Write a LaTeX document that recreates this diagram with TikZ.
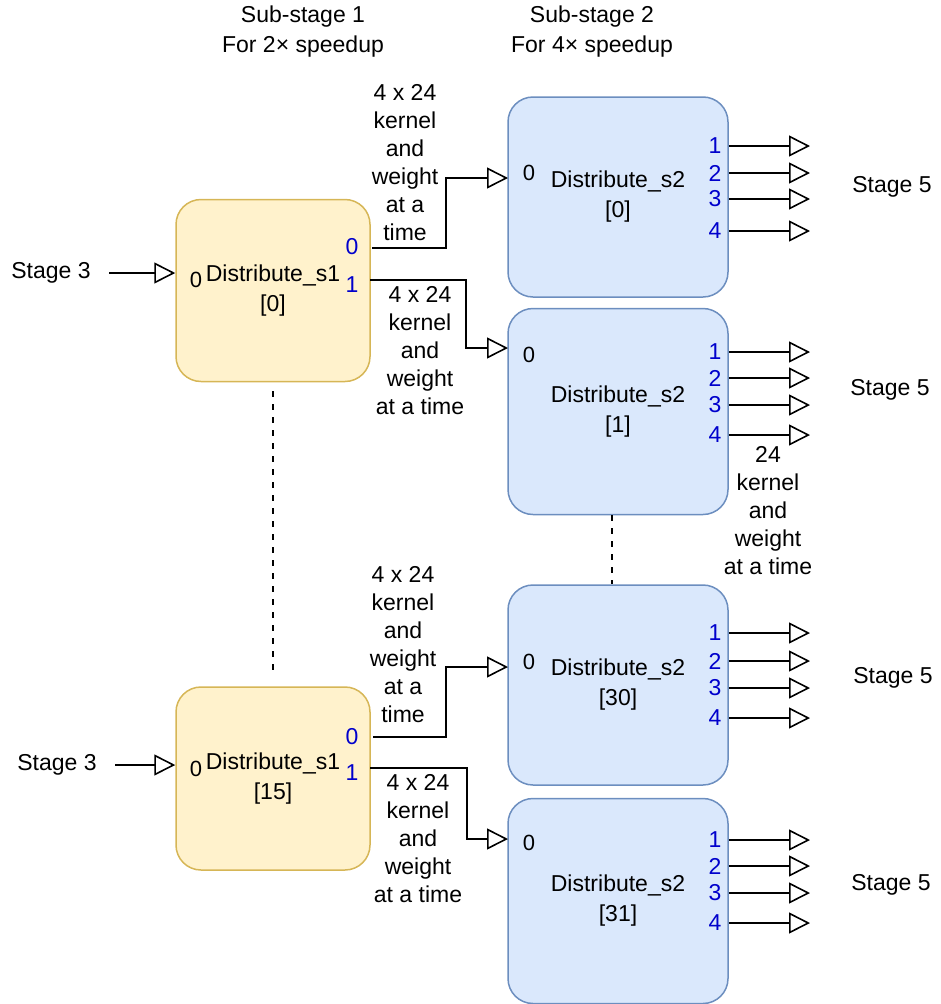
\documentclass[tikz,border=0pt]{standalone}
\usepackage{fontspec}
\setmainfont{Liberation Sans}
\usetikzlibrary{positioning,arrows.meta}
\definecolor{s1fill}{HTML}{FFF2CC}
\definecolor{s1draw}{HTML}{D6B656}
\definecolor{s2fill}{HTML}{DAE8FC}
\definecolor{s2draw}{HTML}{6C8EBF}
\definecolor{portblue}{HTML}{0000CC}
\tikzset{
>={Triangle[open,length=21pt,width=21pt]},
  s1node/.style={
    rectangle,
    rounded corners=25pt,
    fill=s1fill,
    draw=s1draw, line width=1.5pt,
    minimum width=194pt,
    minimum height=182pt,
    align=center,
    font=\fontsize{23}{30}\selectfont},
  s2node/.style={
    rectangle,
    rounded corners=25pt,
    fill=s2fill,
    draw=s2draw, line width=1.5pt,
    minimum width=220pt,
    minimum height=203pt,
    align=center,
    font=\fontsize{23}{30}\selectfont},
  portno/.style={text=portblue, inner sep=0pt},
  inport/.style={font=\fontsize{22}{28}\selectfont, inner sep=0pt},
  textnote/.style={align=center},
  line/.style={draw, line width=1.6pt, ->},
  dots/.style={draw, line width=1.6pt, dash pattern=on 6pt off 7pt}
}
\begin{document}
\begin{tikzpicture}[x=1pt, y=-1pt, font=\fontsize{23}{28}\selectfont]
  \useasboundingbox (0,0) rectangle (940,1004);

  % headers
  \node[textnote, font=\fontsize{23}{30}\selectfont] (sub1) at (303,32) {Sub-stage 1\\For 2× speedup};
  \node[textnote, font=\fontsize{23}{30}\selectfont] (sub2) at (592,32) {Sub-stage 2\\For 4× speedup};

  % sub-stage 1
  \node[s1node] (s1a) at (273,290.5) {Distribute\_s1\\{[0]}};
  \node[s1node, minimum height=183pt] (s1b) at (273,778.5) {Distribute\_s1\\{[15]}};

  % sub-stage 2
  \node[s2node, minimum height=200pt] (s2a) at (618,197) {Distribute\_s2\\{[0]}};
  \node[s2node, minimum height=206pt, below=10pt of s2a] (s2b) {Distribute\_s2\\{[1]}};
  \node[s2node, minimum height=200pt] (s2c) at (618,685) {Distribute\_s2\\{[30]}};
  \node[s2node, minimum height=205pt, below=12pt of s2c] (s2d) {Distribute\_s2\\{[31]}};

  % input port numbers
  \node[inport] (s1a-in) at (196,280) {0};
  \node[inport] (s1b-in) at (196,769) {0};
  \node[inport] (s2a-in) at (529,173) {0};
  \node[inport] (s2b-in) at (529,355) {0};
  \node[inport] (s2c-in) at (529,662) {0};
  \node[inport] (s2d-in) at (529,843) {0};

  % output port numbers of sub-stage 1
  \node[portno] (s1a-p0) at (352,247) {0};
  \node[portno] (s1a-p1) at (352,285) {1};
  \node[portno] (s1b-p0) at (352,737) {0};
  \node[portno] (s1b-p1) at (352,773) {1};

  % stage 3 inputs
  \node (st3a) at (51,273) {Stage 3};
  \node (st3b) at (57,765) {Stage 3};
  \draw[line, shorten <=15pt] (st3a.east) -- (s1a.west |- st3a);
  \draw[line, shorten <=15pt] (st3b.east) -- (s1b.west |- st3b);

  % sub-stage 1 -> sub-stage 2
  \coordinate (s1a-o0) at (372,248);
  \coordinate (s1a-o1) at (370,280);
  \coordinate (s1b-o0) at (373,737);
  \coordinate (s1b-o1) at (370,768);
  \coordinate (s2a-i) at (508,178);
  \coordinate (s2b-i) at (508,348);
  \coordinate (s2c-i) at (508,667);
  \coordinate (s2d-i) at (508,839);
  \draw[line] (s1a-o0) -- ++(74,0) |- (s2a-i);
  \draw[line] (s1a-o1) -- ++(96,0) |- (s2b-i);
  \draw[line] (s1b-o0) -- ++(73,0) |- (s2c-i);
  \draw[line] (s1b-o1) -- ++(97,0) |- (s2d-i);

  \node[textnote] (k0a) at (405,163) {4 x 24\\kernel\\and\\weight\\at a\\time};
  \node[textnote] (k1a) at (420,351) {4 x 24\\kernel\\and\\weight\\at a time};
  \node[textnote] (k0b) at (403,645) {4 x 24\\kernel\\and\\weight\\at a\\time};
  \node[textnote] (k1b) at (418,839) {4 x 24\\kernel\\and\\weight\\at a time};

  % sub-stage 2 outputs
  \foreach \nm/\ys in {s2a/{146,173,199,231}, s2b/{352,378,405,435},
                       s2c/{633,661,688,718}, s2d/{840,866,893,923}} {
    \foreach \y [count=\i] in \ys {
      \node[portno] (\nm-p\i) at (715,\y) {\i};
      \coordinate (\nm-o\i) at (810,\y);
      \draw[line] (\nm.east |- \nm-o\i) -- (\nm-o\i);
    }
  }
  \node[textnote] (kout) at (768,511) {24\\kernel\\and\\weight\\at a time};

  \node (st5a) at (892,187) {Stage 5};
  \node (st5b) at (890,390) {Stage 5};
  \node (st5c) at (893,678) {Stage 5};
  \node (st5d) at (891,885) {Stage 5};

  % more instances in between
  \draw[dots] ([yshift=-9pt]s1a.south) -- ([yshift=9pt]s1b.north);
  \draw[dots] ([xshift=-6pt]s2b.south) -- ([xshift=-6pt]s2c.north);
\end{tikzpicture}
\end{document}
